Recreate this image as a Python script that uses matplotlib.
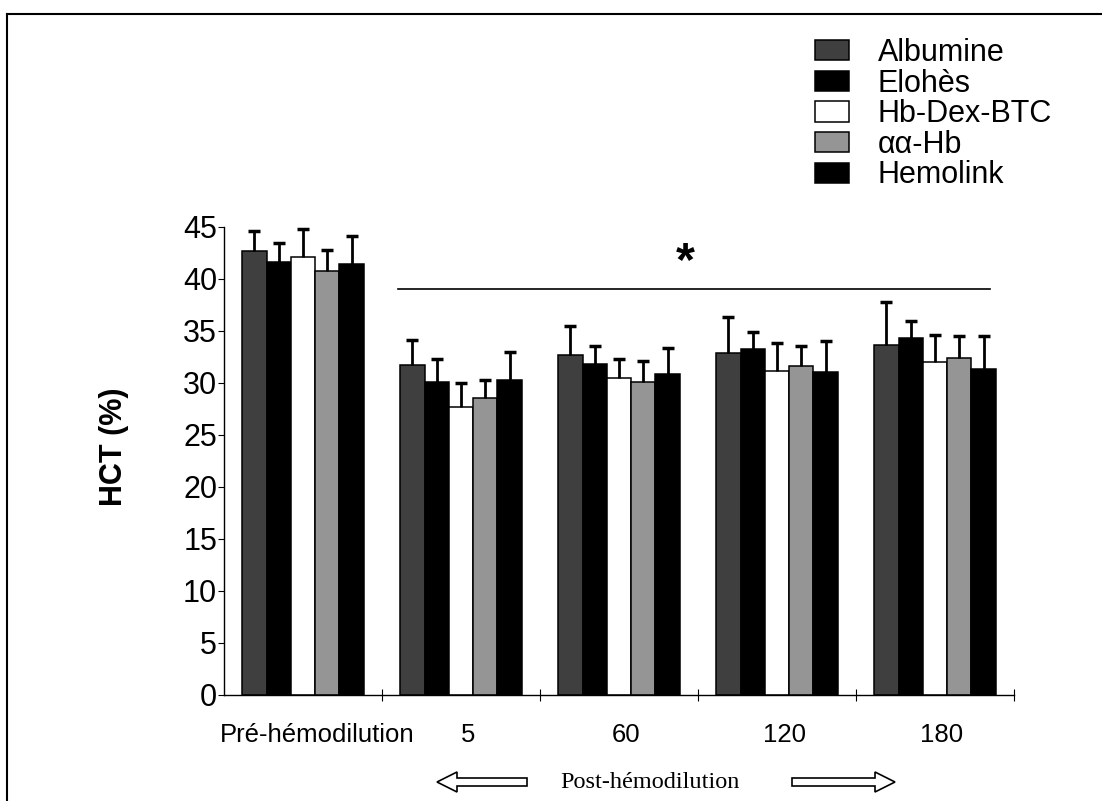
import matplotlib
matplotlib.use("Agg")
import matplotlib.pyplot as plt
from matplotlib.lines import Line2D
from matplotlib.patches import FancyArrow, Patch
import numpy as np

# data (HCT %, mean and upper SD)
groups = ["Pré-hémodilution", "5", "60", "120", "180"]
series = ["Albumine", "Elohès", "Hb-Dex-BTC", "αα-Hb", "Hemolink"]

albumine = [42.7, 31.7, 32.7, 32.9, 33.7]
elohes = [41.6, 30.1, 31.8, 33.3, 34.3]
hb_dex_btc = [42.1, 27.7, 30.5, 31.2, 32.0]
aa_hb = [40.8, 28.6, 30.1, 31.6, 32.4]
hemolink = [41.4, 30.3, 30.9, 31.1, 31.3]

albumine_sd = [1.9, 2.4, 2.8, 3.4, 4.1]
elohes_sd = [1.9, 2.2, 1.8, 1.6, 1.7]
hb_dex_btc_sd = [2.7, 2.3, 1.8, 2.6, 2.6]
aa_hb_sd = [2.0, 1.7, 2.0, 2.0, 2.1]
hemolink_sd = [2.7, 2.7, 2.5, 2.9, 3.2]

sig_y = 39.0

values = [albumine, elohes, hb_dex_btc, aa_hb, hemolink]
errors = [albumine_sd, elohes_sd, hb_dex_btc_sd, aa_hb_sd, hemolink_sd]
faces = ["#3f3f3f", "#000000", "#ffffff", "#959595", "#000000"]

plt.rcParams['font.family'] = ['Liberation Sans', 'DejaVu Sans']

fig = plt.figure(figsize=(11.02, 8.01), dpi=100)
ax = fig.add_axes([224 / 1102, 1 - 695 / 801, 790 / 1102, 468 / 801])

x = np.arange(len(groups))
w = 0.154
for j, (vals, errs, fc) in enumerate(zip(values, errors, faces)):
    ax.bar(x + (j - 2) * w, vals, width=w, color=fc, edgecolor="black",
           linewidth=1.1, label=series[j], zorder=2)
    _, caps, _ = ax.errorbar(x + (j - 2) * w, vals, yerr=[np.zeros(len(errs)), errs],
                             fmt="none", ecolor="black", elinewidth=2.0, capsize=4.5,
                             capthick=2.5, zorder=3)
    caps[0].set_visible(False)  # no cap at the bar top

ax.set_xlim(-0.5, len(groups) - 0.5)
ax.set_ylim(0, 45)
ax.set_yticks(np.arange(0, 46, 5))
ax.set_xticks(x + 0.5)
ax.set_xticklabels([])
# labels sit a little right of the group centres in the original
ax.set_xticks(x + np.array([0.09, 0.045, 0.045, 0.05, 0.04]), minor=True)
ax.set_xticklabels(groups, minor=True)
ax.tick_params(axis="x", which="major", direction="inout", length=9, width=0.8)
ax.tick_params(axis="x", which="minor", length=0, pad=20, labelsize=18.5)
ax.tick_params(axis="y", direction="out", length=4, width=0.8, pad=1, labelsize=22)

for side in ["top", "right"]:
    ax.spines[side].set_visible(False)
ax.spines["left"].set_linewidth(1.0)
ax.spines["bottom"].set_linewidth(1.0)

ax.set_ylabel("HCT (%)", fontsize=22, fontweight="bold")
ax.yaxis.set_label_coords(-0.12, 0.53)

# significance line and star
ax.plot([0.60, 4.35], [sig_y, sig_y], color="black", lw=1.2, zorder=1)
ax.text(2.42, 39.4, "*", ha="center", va="bottom", fontsize=35, fontweight="bold")

handles = [Patch(facecolor=fc, edgecolor="black", linewidth=1.1) for fc in faces]
fig.legend(handles, series, loc="upper left", bbox_to_anchor=(815 / 1102, 1 - 38 / 801),
           frameon=False, fontsize=22, handlelength=1.1, handleheight=0.65,
           handletextpad=0.95, labelspacing=0.02, borderpad=0, borderaxespad=0)

# post-hemodilution label with hollow arrows
yf = 1 - 782 / 801
fig.text(650 / 1102, yf, "Post-hémodilution", ha="center", va="center",
         fontsize=17.5, family="Liberation Serif")
fig.add_artist(FancyArrow(527 / 1102, yf, -90 / 1102, 0, width=8 / 801,
                          head_width=20 / 801, head_length=20 / 1102,
                          length_includes_head=True, facecolor="white",
                          edgecolor="black", linewidth=1.2, transform=fig.transFigure))
fig.add_artist(FancyArrow(792 / 1102, yf, 103 / 1102, 0, width=8 / 801,
                          head_width=20 / 801, head_length=20 / 1102,
                          length_includes_head=True, facecolor="white",
                          edgecolor="black", linewidth=1.2, transform=fig.transFigure))

# frame fragments of the scanned page
fig.add_artist(Line2D([7 / 1102, 1.0], [1 - 14 / 801, 1 - 14 / 801], color="black", lw=1.5,
                      transform=fig.transFigure))
fig.add_artist(Line2D([7 / 1102, 7 / 1102], [1 - 14 / 801, 0.0], color="black", lw=1.5,
                      transform=fig.transFigure))

fig.savefig("out.png", dpi=100)
